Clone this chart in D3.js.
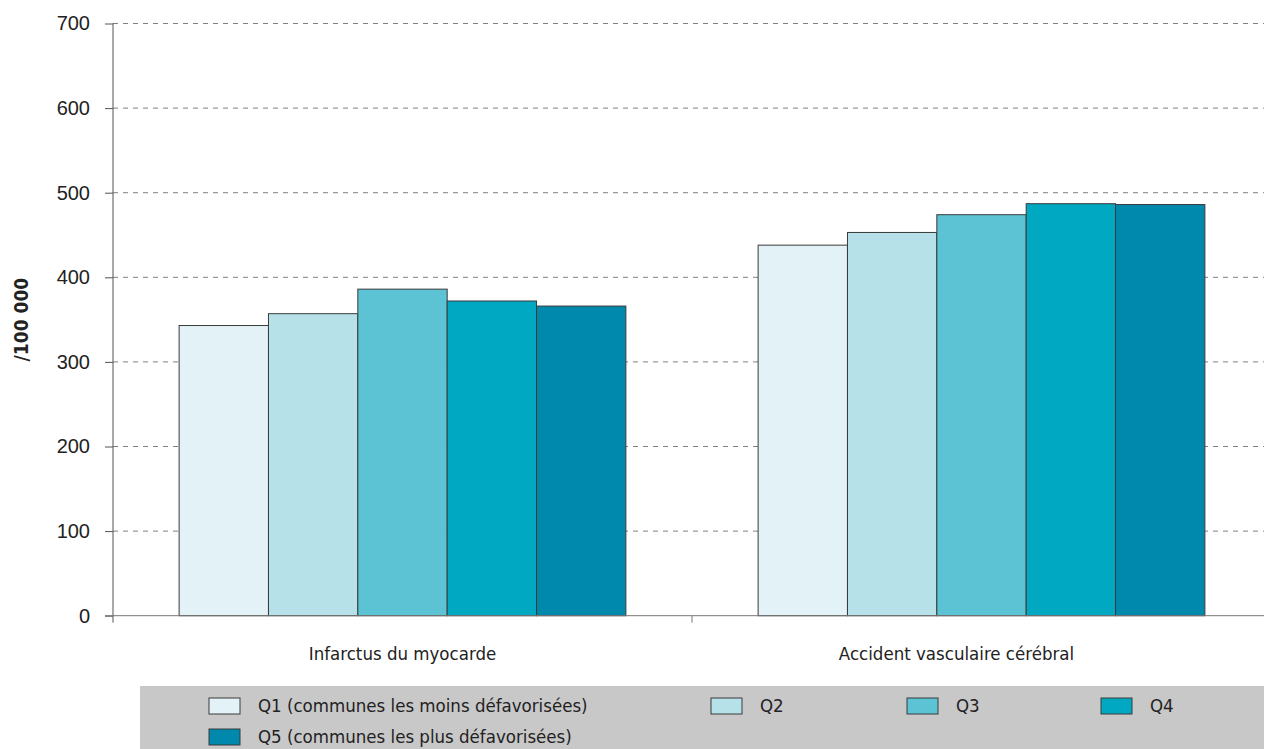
<!DOCTYPE html>
<html>
<head>
<meta charset="utf-8">
<script src="https://cdn.jsdelivr.net/npm/d3@7"></script>
<style>
  body { margin: 0; background: #fff; }
  svg { display: block; font-family: "DejaVu Sans Condensed", "Liberation Sans Narrow", sans-serif; font-stretch: condensed; }
</style>
</head>
<body>
<div id="viz"></div>
<script>
const categories = ['Infarctus du myocarde', 'Accident vasculaire cérébral'];
const quintiles = ['Q1', 'Q2', 'Q3', 'Q4', 'Q5'];
const legendLabels = [
  'Q1 (communes les moins défavorisées)', 'Q2', 'Q3', 'Q4',
  'Q5 (communes les plus défavorisées)'
];
const infarctus = [343, 357, 386, 372, 366];
const avc = [438, 453, 474, 487, 486];
const yTicks = [0, 100, 200, 300, 400, 500, 600, 700];
const colors = ['#e2f2f6', '#b6e1e8', '#5bc3d4', '#00a8c1', '#0089ad'];

const WIDTH = 1264;
const HEIGHT = 749;
const MARGIN = { top: 23.5, left: 113, bottom: 615.7, right: 1271 };
const FONT = '18.5px';

const series = [infarctus, avc];

const svg = d3.select('#viz').append('svg')
  .attr('width', WIDTH)
  .attr('height', HEIGHT);

const x0 = d3.scaleBand()
  .domain(categories)
  .range([MARGIN.left, MARGIN.right]);

const x1 = d3.scaleBand()
  .domain(quintiles)
  .range([0, x0.bandwidth()])
  .paddingInner(0)
  .paddingOuter(0.74);

const y = d3.scaleLinear()
  .domain([0, 700])
  .range([MARGIN.bottom, MARGIN.top]);

// gridlines
svg.append('g')
  .selectAll('line')
  .data(yTicks.filter(d => d > 0))
  .join('line')
  .attr('x1', MARGIN.left)
  .attr('x2', WIDTH)
  .attr('y1', d => y(d))
  .attr('y2', d => y(d))
  .attr('stroke', '#808080')
  .attr('stroke-width', 1)
  .attr('stroke-dasharray', '5,5');

// bars
const groups = svg.append('g')
  .selectAll('g')
  .data(categories)
  .join('g')
  .attr('transform', d => `translate(${x0(d)},0)`);

groups.selectAll('rect')
  .data((d, i) => series[i].map((v, j) => ({ q: quintiles[j], v, j })))
  .join('rect')
  .attr('x', d => x1(d.q))
  .attr('width', x1.bandwidth())
  .attr('y', d => y(d.v))
  .attr('height', d => y(0) - y(d.v))
  .attr('fill', d => colors[d.j])
  .attr('stroke', '#3a3a3a')
  .attr('stroke-width', 1);

// y axis
const yAxis = d3.axisLeft(y)
  .tickValues(yTicks)
  .tickSize(8)
  .tickPadding(15)
  .tickFormat(d3.format('d'));
const yg = svg.append('g')
  .attr('transform', `translate(${MARGIN.left},0)`)
  .call(yAxis);
yg.select('.domain').attr('stroke', '#555').attr('d', `M0,${MARGIN.top}V${MARGIN.bottom + 7}`);
yg.selectAll('.tick line').attr('stroke', '#555');
yg.selectAll('.tick text').attr('fill', '#222').style('font-size', '20px');

// x axis
const xg = svg.append('g')
  .attr('transform', `translate(0,${MARGIN.bottom})`);
xg.append('line')
  .attr('x1', MARGIN.left - 8).attr('x2', WIDTH)
  .attr('stroke', '#777');
xg.selectAll('line.tick')
  .data(categories.slice(1))
  .join('line')
  .attr('class', 'tick')
  .attr('x1', d => x0(d)).attr('x2', d => x0(d))
  .attr('y1', 0).attr('y2', 7)
  .attr('stroke', '#777');
xg.selectAll('text')
  .data(categories)
  .join('text')
  .attr('x', d => x0(d) + x0.bandwidth() / 2 - (d === categories[1] ? 25 : 0))
  .attr('y', 44)
  .attr('text-anchor', 'middle')
  .attr('fill', '#222')
  .style('font-size', FONT)
  .text(d => d);

// y title
svg.append('text')
  .attr('transform', `translate(28,${(MARGIN.top + MARGIN.bottom) / 2}) rotate(-90)`)
  .attr('text-anchor', 'middle')
  .attr('font-weight', 'bold')
  .attr('fill', '#222')
  .style('font-size', '19px')
  .text('/100 000');

// legend
const legend = svg.append('g');
legend.append('rect')
  .attr('x', 140).attr('y', 686)
  .attr('width', WIDTH - 140).attr('height', HEIGHT - 686)
  .attr('fill', '#c8c8c9');

const legendPos = [
  [209, 706], [711, 706], [907, 706], [1101, 706], [209, 737]
];
const items = legend.selectAll('g.item')
  .data(legendLabels)
  .join('g')
  .attr('class', 'item')
  .attr('transform', (d, i) => `translate(${legendPos[i][0]},${legendPos[i][1]})`);
items.append('rect')
  .attr('x', 0).attr('y', -8)
  .attr('width', 31).attr('height', 16)
  .attr('fill', (d, i) => colors[i])
  .attr('stroke', '#3a3a3a');
items.append('text')
  .attr('x', 49).attr('y', 6)
  .attr('fill', '#222')
  .style('font-size', FONT)
  .text(d => d);
</script>
</body>
</html>
